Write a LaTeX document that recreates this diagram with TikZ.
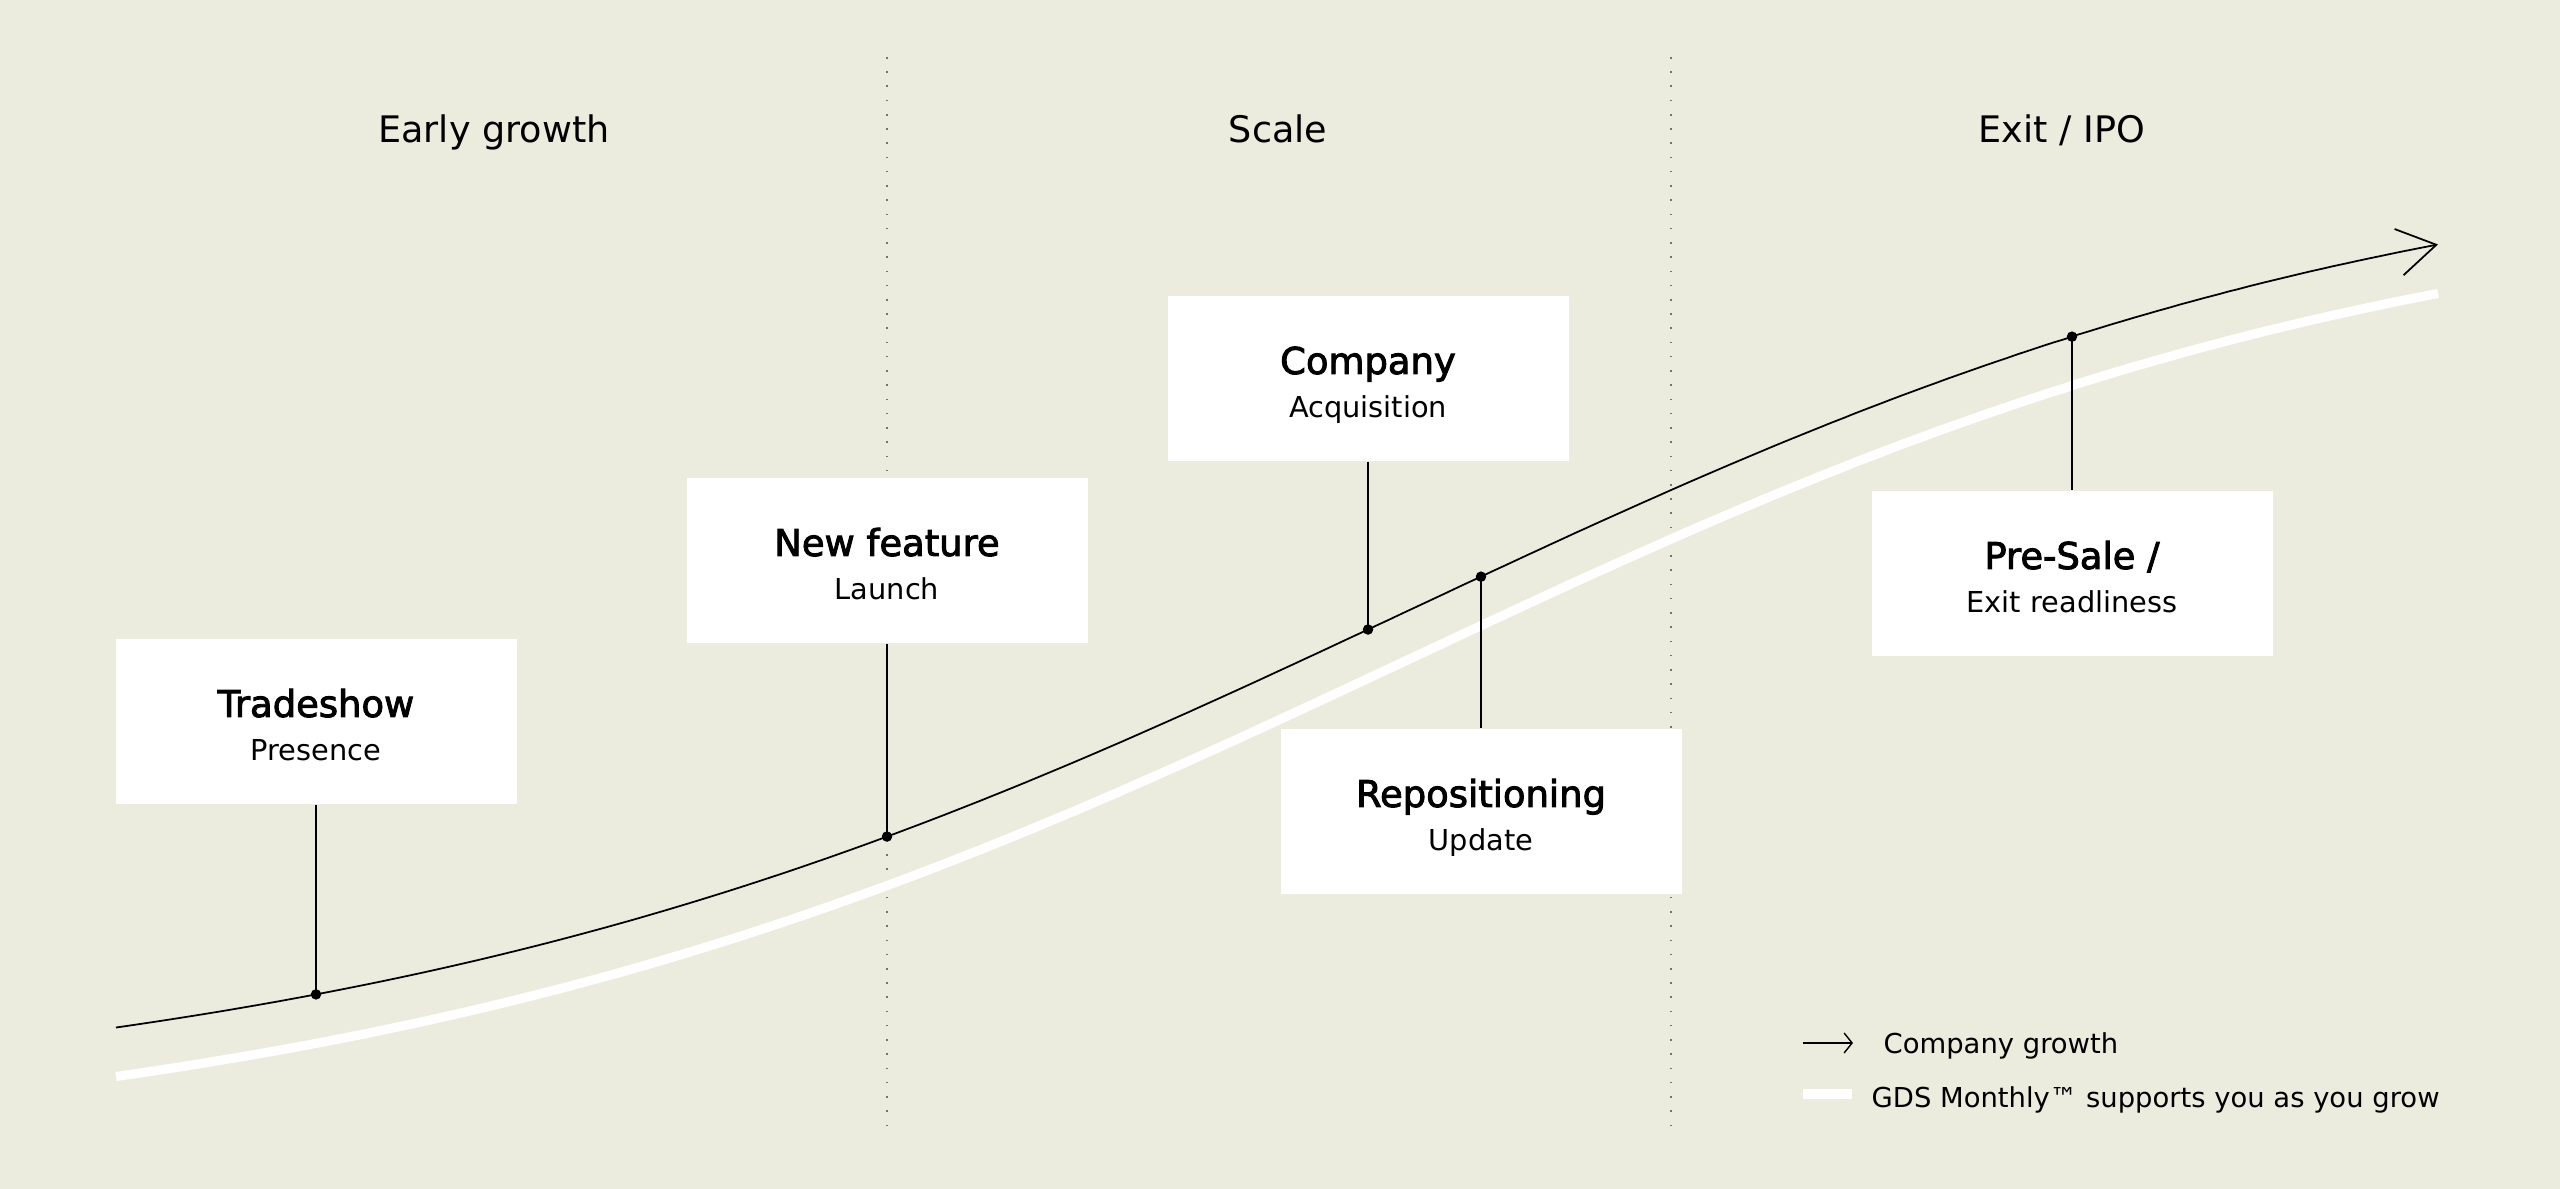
\documentclass[tikz,border=0pt]{standalone}
\usepackage{fontspec}
\setmainfont{DejaVu Sans}
\newfontfamily\titlefont{DejaVu Sans}[FakeBold=2.5]
\usetikzlibrary{arrows.meta,calc}
\definecolor{bg}{RGB}{236,236,222}
\pgfmathdeclarefunction{gy}{1}{\pgfmathparse{605-976*(1/(1+exp(-(#1-1420)/519))-0.5)+5.5*((#1-1300)/1000)^2}}
\begin{document}
\begin{tikzpicture}[x=0.1mm,y=-0.1mm,
  divider/.style={draw=black!55, line width=0.45pt, dash pattern=on 0.45pt off 3.6pt},
  growth/.style={line width=0.5pt, -{Straight Barb[length=3.8mm,width=4.7mm]}},
  support/.style={draw=white, line width=2.6pt},
  conn/.style={line width=0.5pt},
  box/.style={fill=white, inner sep=0pt, minimum width=40.1mm, minimum height=16.5mm},
  ttl/.style={font=\titlefont\fontsize{10.5}{12}\selectfont, anchor=base, inner sep=0pt},
  sub/.style={font=\fontsize{8.2}{10}\selectfont, anchor=base, inner sep=0pt},
  hdr/.style={font=\fontsize{10.4}{12}\selectfont, anchor=base, inner sep=0pt},
  leg/.style={font=\fontsize{7.8}{9}\selectfont, anchor=base west, inner sep=0pt},
  dot/.style={circle, fill=black, inner sep=0pt, minimum size=1.05mm}]
\fill[bg] (0,0) rectangle (2560,1189);
\useasboundingbox (0,0) rectangle (2560,1189);
% phase dividers
\draw[divider] (887,57) -- (887,1130);
\draw[divider] (1671,57) -- (1671,1130);
% headers
\node[hdr] (h1) at (494,143) {Early growth};
\node[hdr] (h2) at (1278,143) {Scale};
\node[hdr] (h3) at (2062,143) {Exit / IPO};
% curves
\draw[support] plot[domain=116:2438,samples=200] (\x,{gy(\x)+49});
\draw[growth] plot[domain=116:2438,samples=200] (\x,{gy(\x)});
% boxes
\node[box] (b1) at (316,721.5) {};
\node[box] (b2) at (887,560.5) {};
\node[box] (b3) at (1368,378.5) {};
\node[box] (b4) at (1481,811.5) {};
\node[box] (b5) at (2072,573.5) {};
\node[ttl] (t1) at ($(b1.center)+(0,-4.5)$) {Tradeshow};
\node[sub] (s1) at ($(b1.center)+(0,39.5)$) {Presence};
\node[ttl] (t2) at ($(b2.center)+(0,-4.5)$) {New feature};
\node[sub] (s2) at ($(b2.center)+(0,39.5)$) {Launch};
\node[ttl] (t3) at ($(b3.center)+(0,-4.5)$) {Company};
\node[sub] (s3) at ($(b3.center)+(0,39.5)$) {Acquisition};
\node[ttl] (t4) at ($(b4.center)+(0,-4.5)$) {Repositioning};
\node[sub] (s4) at ($(b4.center)+(0,39.5)$) {Update};
\node[ttl] (t5) at ($(b5.center)+(0,-4.5)$) {Pre-Sale /};
\node[sub] (s5) at ($(b5.center)+(0,39.5)$) {Exit readliness};
% milestone dots
\node[dot] (p1) at (316,{gy(316)}) {};
\node[dot] (p2) at (887,{gy(887)}) {};
\node[dot] (p3) at (1368,{gy(1368)}) {};
\node[dot] (p4) at (1481,{gy(1481)}) {};
\node[dot] (p5) at (2072,{gy(2072)}) {};
% connectors
\draw[conn] (b1.south) -- (p1.center);
\draw[conn] (b2.south) -- (p2.center);
\draw[conn] (b3.south) -- (p3.center);
\draw[conn] (p4.center) -- (b4.north);
\draw[conn] (p5.center) -- (b5.north);
% legend
\coordinate (la1) at (1803,1043);
\coordinate (la2) at (1853,1043);
\draw[line width=0.4pt,-{Straight Barb[length=0.8mm,width=2mm]}] (la1) -- (la2);
\node[leg] (l1) at (1883,1054) {Company growth};
\coordinate (lb1) at (1803,1094);
\coordinate (lb2) at (1852,1094);
\draw[white, line width=1mm] (lb1) -- (lb2);
\node[leg] (l2) at (1871,1108) {GDS Monthly™ supports you as you grow};
\end{tikzpicture}
\end{document}
